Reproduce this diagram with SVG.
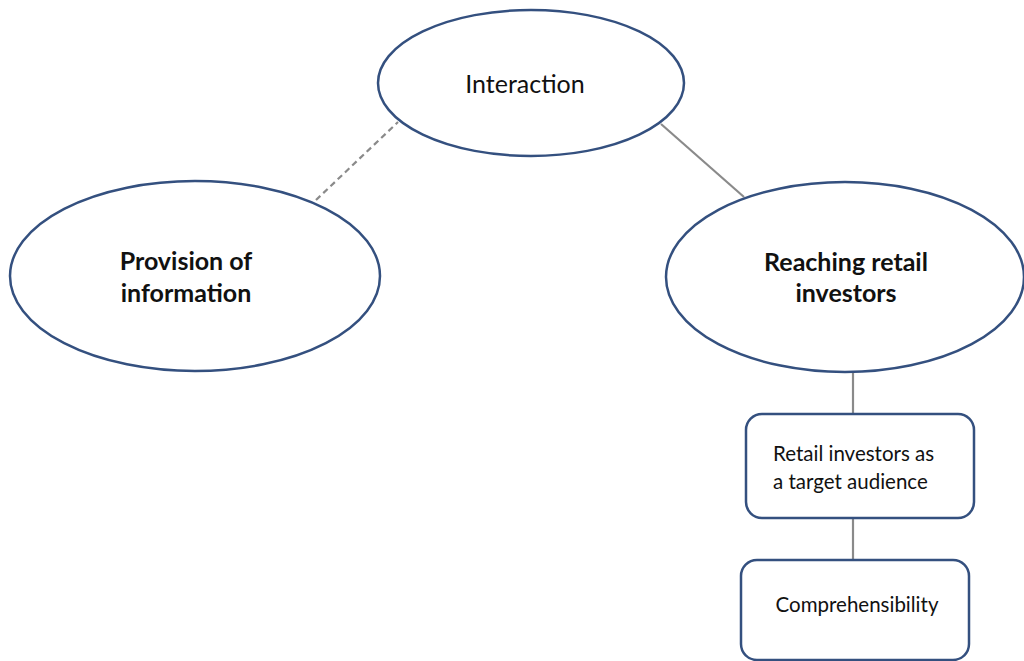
<svg xmlns="http://www.w3.org/2000/svg" width="1024" height="661" viewBox="0 0 1024 661">
<style>
.node{fill:#fff;stroke:#34507f;stroke-width:2.5}
.t{font-family:Lato,"Open Sans","Liberation Sans",sans-serif;fill:#111;text-anchor:middle}
.b{font-weight:bold;font-size:25px}
.n{font-size:25px}
.s{font-size:20.5px}
.l{text-anchor:start}
.c{stroke:#8a8a8a;stroke-width:2.2;fill:none}
</style>
<rect width="1024" height="661" fill="#fff"/>
<g id="connectors">
<line class="c" x1="316" y1="200" x2="398" y2="122" stroke-dasharray="6,4"/>
<line class="c" x1="661" y1="124" x2="744" y2="197"/>
<line class="c" x1="853" y1="372" x2="853" y2="414"/>
<line class="c" x1="853" y1="518" x2="853" y2="560"/>
</g>
<g id="interaction">
<ellipse class="node" cx="531" cy="83" rx="153" ry="73"/>
<text class="t n" x="525" y="93">Interaction</text>
</g>
<g id="provision">
<ellipse class="node" cx="195" cy="276" rx="185" ry="95"/>
<text class="t b" x="186" y="270">Provision of</text>
<text class="t b" x="186" y="302">information</text>
</g>
<g id="reaching">
<ellipse class="node" cx="845" cy="277" rx="179" ry="95"/>
<text class="t b" x="846" y="271">Reaching retail</text>
<text class="t b" x="846" y="302">investors</text>
</g>
<g id="retail">
<rect class="node" x="746" y="414" width="228" height="104" rx="16"/>
<text class="t s l" x="773" y="461">Retail investors as</text>
<text class="t s l" x="773" y="489">a target audience</text>
</g>
<g id="comprehensibility">
<rect class="node" x="741" y="560" width="228" height="100" rx="16"/>
<text class="t s" x="857" y="612">Comprehensibility</text>
</g>
</svg>
